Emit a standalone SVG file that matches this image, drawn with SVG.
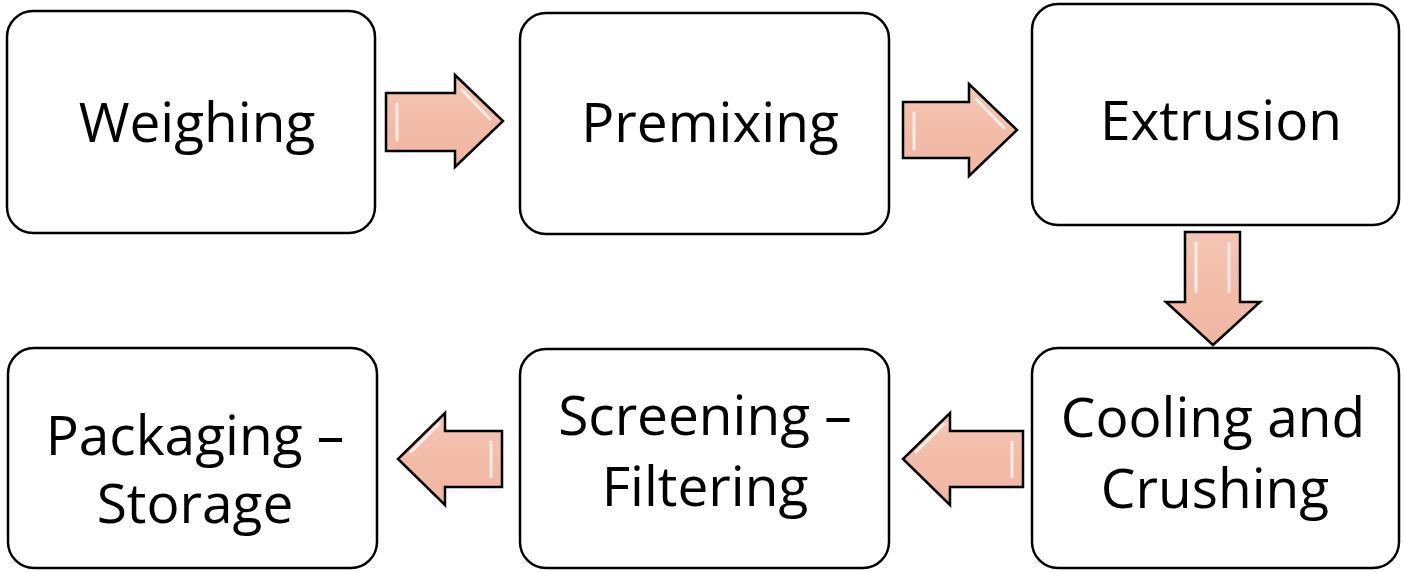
<svg xmlns="http://www.w3.org/2000/svg" width="1404" height="572" viewBox="0 0 1404 572">
<style>
.box{fill:#fff;stroke:#000;stroke-width:2.5}
.arr{fill:url(#g);stroke:#000;stroke-width:2.5;stroke-linejoin:miter}
.hl{fill:none;stroke:#fff;stroke-width:3;stroke-opacity:0.7;stroke-linecap:round}
text{font-family:"Open Sans","Liberation Sans",sans-serif;font-size:55px;fill:#000;text-anchor:middle}
</style>
<defs>
<linearGradient id="g" x1="0" y1="0" x2="0" y2="1">
<stop offset="0" stop-color="#F5C6B5"/>
<stop offset="0.5" stop-color="#F2BCA9"/>
<stop offset="1" stop-color="#F0B6A2"/>
</linearGradient>
</defs>
<g id="connectors">
<g id="a1"><path class="arr" d="M386,93 L455,93 L455,75 L503,121 L455,167 L455,151 L386,151 Z"/><path class="hl" d="M397,104 L397,140 M462,90 L490,119"/></g>
<g id="a2"><path class="arr" d="M903,102 L969,102 L969,84 L1017,130 L969,176 L969,158 L903,158 Z"/><path class="hl" d="M914,113 L914,149 M976,99 L1004,128"/></g>
<g id="a3"><path class="arr" d="M1185,232 L1240,232 L1240,302 L1260,302 L1213,345 L1166,302 L1185,302 Z"/><path class="hl" d="M1196,243 L1196,292 M1229,243 L1229,292"/></g>
<g id="a4"><path class="arr" d="M1023,431 L950,431 L950,413 L903,459 L950,505 L950,487 L1023,487 Z"/><path class="hl" d="M1012,442 L1012,477 M944,424 L916,452"/></g>
<g id="a5"><path class="arr" d="M502,431 L445,431 L445,413 L398,459 L445,505 L445,487 L502,487 Z"/><path class="hl" d="M491,442 L491,477 M439,424 L411,452"/></g>
</g>
<g id="n1"><rect class="box" x="7" y="11" width="368" height="222" rx="26"/><text x="197" y="142">Weighing</text></g>
<g id="n2"><rect class="box" x="520" y="13" width="369" height="221" rx="26"/><text x="710" y="142">Premixing</text></g>
<g id="n3"><rect class="box" x="1032" y="4" width="367" height="221" rx="26"/><text x="1221" y="140">Extrusion</text></g>
<g id="n4"><rect class="box" x="8" y="348" width="369" height="220" rx="26"/><text x="195" y="455">Packaging –</text><text x="195" y="523">Storage</text></g>
<g id="n5"><rect class="box" x="520" y="349" width="369" height="219" rx="26"/><text x="705" y="435">Screening –</text><text x="705" y="506">Filtering</text></g>
<g id="n6"><rect class="box" x="1032" y="348" width="367" height="220" rx="26"/><text x="1213" y="437">Cooling and</text><text x="1215" y="508">Crushing</text></g>
</svg>
